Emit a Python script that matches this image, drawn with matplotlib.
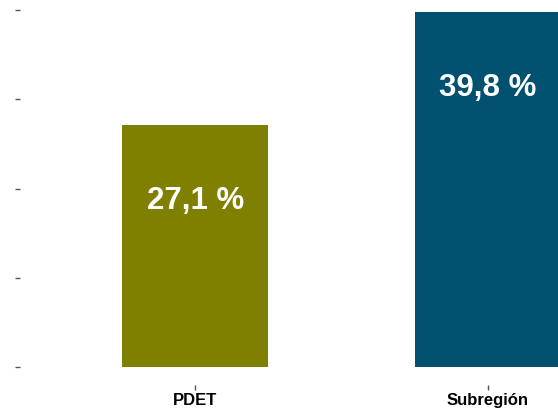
import matplotlib.pyplot as plt

categories = ['PDET', 'Subregión']
values = [27.1, 39.8]
labels = ['27,1 %', '39,8 %']
colors = ['#808000', '#00506F']
y_ticks = [0, 10, 20, 30, 40]

plt.rcParams['font.family'] = ['Liberation Sans', 'DejaVu Sans']

fig = plt.figure(figsize=(5.58, 4.09), dpi=100)
# panel runs off the right/top edge like the cropped original
ax = fig.add_axes([20 / 558, 24 / 409, 643 / 558, 391 / 409])

x = [1, 2]
ax.bar(x, values, width=0.5, color=colors)
for xi, v, lab in zip(x, values, labels):
    ax.text(xi, v - 8.5, lab, ha='center', va='center', color='white',
            fontsize=22.5, fontweight='bold')

ax.set_xlim(0.4, 2.6)
ax.set_ylim(-1.99, 41.79)
ax.set_xticks(x)
ax.set_xticklabels(categories, fontsize=12, fontweight='bold')
ax.set_yticks(y_ticks)
ax.set_yticklabels([])
ax.tick_params(axis='both', length=3.5, width=1, color='#555555')
ax.tick_params(axis='x', pad=2)
for s in ax.spines.values():
    s.set_visible(False)

fig.savefig('out.png', dpi=100)
